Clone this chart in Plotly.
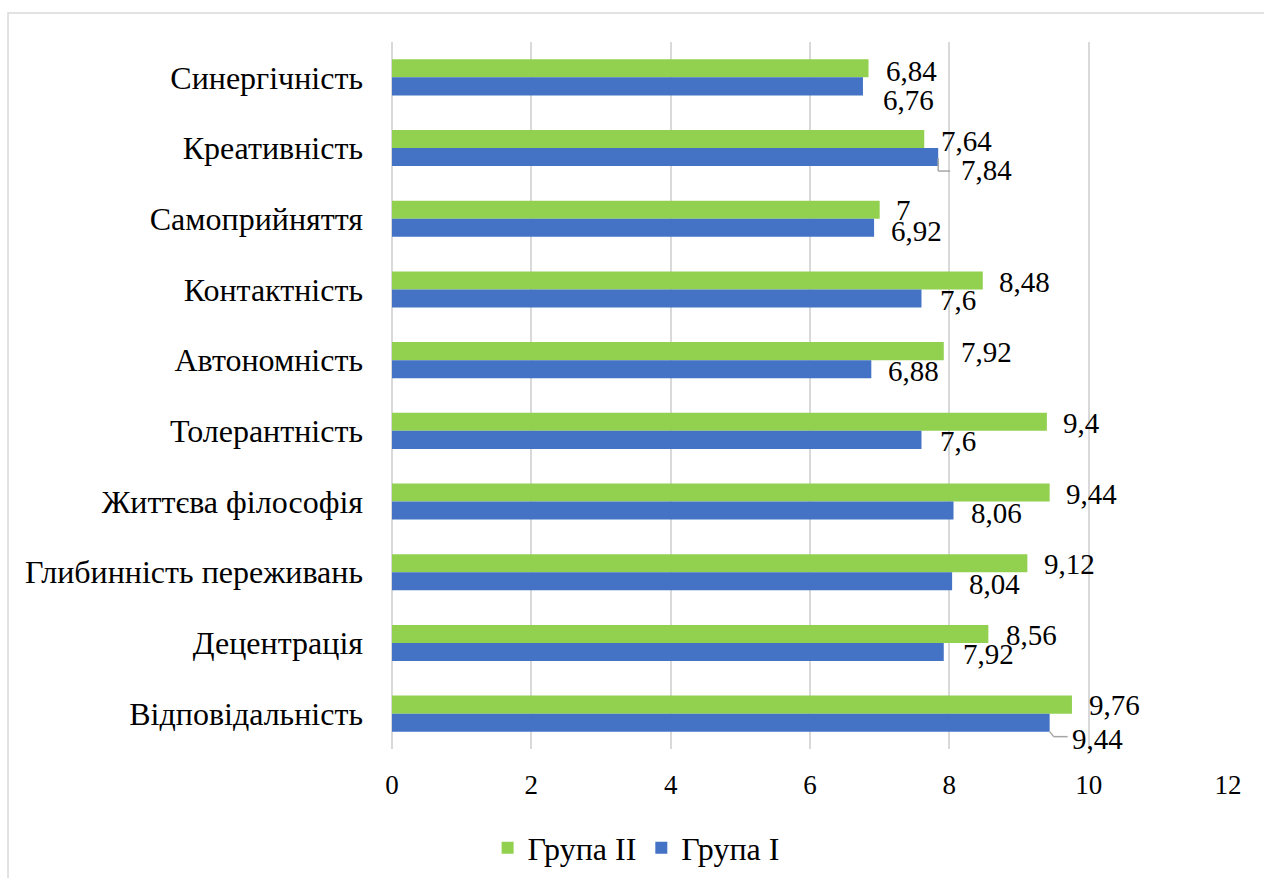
import plotly.graph_objects as go

# Scale values per category (top to bottom as displayed)
categories = [
    "Синергічність", "Креативність", "Самоприйняття", "Контактність",
    "Автономність", "Толерантність", "Життєва філософія",
    "Глибинність переживань", "Децентрація", "Відповідальність",
]
group2 = [6.84, 7.64, 7, 8.48, 7.92, 9.4, 9.44, 9.12, 8.56, 9.76]
group1 = [6.76, 7.84, 6.92, 7.6, 6.88, 7.6, 8.06, 8.04, 7.92, 9.44]
series_names = ["Група II", "Група I"]
axis_ticks = [0, 2, 4, 6, 8, 10, 12]

GREEN = "#92D050"
BLUE = "#4472C4"
GRID = "#D9D9D9"
FONT = "Liberation Serif"
FS_CAT = 32
FS_NUM = 29
FS_TICK = 27
FS_LEG = 32

# Label placement: (px right of bar end, px below category centre)
off2 = [(15, -6), (15, -7), (14, -9), (14, -7), (15, -8),
        (14, -8), (14, -8), (15, -8), (16, -8), (15, -9)]
off1 = [(18, 23), (21, 22), (15, 12), (17, 11), (15, 11),
        (17, 10), (15, 11), (15, 12), (17, 11), (20, 25)]


def fmt(v):
    return f"{v:g}".replace(".", ",")


fig = go.Figure()
fig.add_trace(go.Bar(y=categories, x=group2, name=series_names[0],
                     orientation="h", marker_color=GREEN, marker_line_width=0))
fig.add_trace(go.Bar(y=categories, x=group1, name=series_names[1],
                     orientation="h", marker_color=BLUE, marker_line_width=0))

annotations = []
for vals, offs in ((group2, off2), (group1, off1)):
    for cat, v, (dx, dy) in zip(categories, vals, offs):
        annotations.append(dict(
            x=v, y=cat, xref="x", yref="y", text=fmt(v), showarrow=False,
            xanchor="left", yanchor="middle", xshift=dx, yshift=-dy,
            font=dict(family=FONT, size=FS_NUM, color="#000000"),
        ))

# Leader lines for labels pushed away from their bars
shapes = []
leaders = [("Креативність", group1[1], [(0, -10), (0, -23), (12, -23)]),
           ("Відповідальність", group1[9], [(0, -18), (4, -23), (18, -23)])]
for cat, v, pts in leaders:
    for (x0, y0), (x1, y1) in zip(pts[:-1], pts[1:]):
        shapes.append(dict(
            type="line", xref="x", yref="y",
            xsizemode="pixel", ysizemode="pixel",
            xanchor=v, yanchor=cat,
            x0=x0, x1=x1, y0=y0, y1=y1,
            line=dict(color="#A6A6A6", width=1.5),
        ))

# Outer chart border
shapes.append(dict(type="rect", xref="paper", yref="paper",
                   x0=-0.4593, x1=1.2, y0=-0.3, y1=1.041,
                   line=dict(color=GRID, width=1.5), layer="below"))

fig.update_layout(
    width=1264, height=878,
    margin=dict(l=392, r=36, t=42, b=129, autoexpand=False),
    paper_bgcolor="white", plot_bgcolor="white",
    barmode="group", bargap=0.49, bargroupgap=0,
    font=dict(family=FONT, size=FS_CAT, color="#000000"),
    showlegend=True,
    legend=dict(orientation="h", x=0.292, y=-0.14, xanchor="center",
                yanchor="middle", font=dict(family=FONT, size=FS_LEG),
                itemsizing="constant"),
    annotations=annotations,
    shapes=shapes,
)
fig.update_xaxes(range=[0, 12], tickvals=axis_ticks, showgrid=True,
                 gridcolor=GRID, gridwidth=1.5, zeroline=True,
                 zerolinecolor=GRID, zerolinewidth=1.5, showline=False,
                 ticks="", ticklabelstandoff=17, automargin=False,
                 tickfont=dict(family=FONT, size=FS_TICK))
fig.update_yaxes(range=[9.5, -0.5], showgrid=False, showline=False,
                 ticks="", ticklabelstandoff=28, automargin=False,
                 tickfont=dict(family=FONT, size=FS_CAT))

fig.write_html("out.html")
